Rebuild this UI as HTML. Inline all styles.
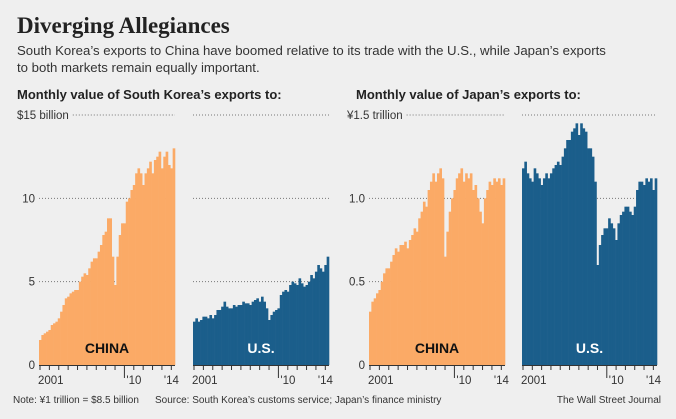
<!DOCTYPE html>
<html><head><meta charset="utf-8"><style>
body{margin:0;background:#efefef;}
svg{display:block;font-family:"Liberation Sans",sans-serif;}
</style></head><body>
<svg id="c" width="676" height="419" viewBox="0 0 676 419">
<rect width="676" height="419" fill="#efefef"/>
<text x="17" y="33" font-family="Liberation Serif,serif" font-weight="bold" font-size="23" fill="#222">Diverging Allegiances</text>
<text x="17" y="55" font-size="13.2" fill="#333">South Korea’s exports to China have boomed relative to its trade with the U.S., while Japan’s exports</text>
<text x="17" y="72" font-size="13.2" fill="#333">to both markets remain equally important.</text>
<text x="17" y="99" font-size="13" font-weight="bold" fill="#222">Monthly value of South Korea’s exports to:</text>
<text x="356" y="99" font-size="13" font-weight="bold" fill="#222">Monthly value of Japan’s exports to:</text>
<text x="13" y="403" font-size="10" fill="#333">Note: ¥1 trillion = $8.5 billion</text>
<text x="155" y="403" font-size="10" fill="#333">Source: South Korea’s customs service; Japan’s finance ministry</text>
<text x="661" y="403" font-size="10" fill="#333" text-anchor="end">The Wall Street Journal</text>
<g id="plots"></g>
</svg>
<script>
const krChina=[1.5,1.8,1.9,2.0,2.1,2.4,2.5,2.6,2.8,3.2,3.6,4.0,4.1,4.3,4.4,4.5,4.5,5.0,5.3,5.5,5.4,5.8,6.2,6.4,6.4,6.8,7.2,7.8,8.0,8.8,8.8,6.5,4.8,6.5,7.8,8.5,8.5,9.8,10.0,10.5,10.8,11.5,11.8,11.5,10.8,11.5,11.8,12.2,11.5,12.3,12.5,12.8,11.8,12.5,12.8,12.0,11.8,13.0];
const krUS=[2.6,2.8,2.6,2.7,2.9,2.9,2.8,3.0,2.8,3.0,3.3,3.3,3.5,3.8,3.5,3.4,3.4,3.6,3.5,3.6,3.6,3.8,3.7,3.7,3.6,3.8,3.9,4.0,3.8,4.1,3.8,3.4,2.7,3.0,3.2,3.3,3.4,4.2,4.4,4.5,4.4,4.8,5.0,4.9,4.8,5.2,4.9,4.7,4.8,5.0,5.4,5.2,5.6,6.0,5.8,5.6,6.0,6.5];
const jpChina=[0.32,0.38,0.40,0.43,0.45,0.50,0.55,0.58,0.58,0.62,0.66,0.70,0.68,0.72,0.72,0.74,0.70,0.75,0.78,0.82,0.80,0.88,0.92,0.98,0.95,1.05,1.10,1.15,1.10,1.15,1.18,1.12,0.65,0.80,0.92,1.00,1.05,1.12,1.15,1.18,1.10,1.15,1.12,1.15,1.05,1.08,1.00,0.92,0.85,1.00,1.05,1.10,1.08,1.12,1.10,1.12,1.08,1.12];
const jpUS=[1.18,1.22,1.15,1.12,1.10,1.18,1.15,1.12,1.08,1.12,1.15,1.12,1.15,1.18,1.20,1.22,1.20,1.25,1.30,1.35,1.35,1.40,1.42,1.45,1.38,1.45,1.42,1.40,1.30,1.30,1.25,1.10,0.60,0.72,0.78,0.82,0.82,0.88,0.85,0.82,0.75,0.85,0.90,0.92,0.95,0.95,0.92,0.90,0.95,1.05,1.10,1.10,1.08,1.12,1.10,1.12,1.05,1.12];
const krTicks=[0,5,10,15];
const krTickLabels=["0","5","10","$15 billion"];
const jpTicks=[0,0.5,1.0,1.5];
const jpTickLabels=["0","0.5","1.0","¥1.5 trillion"];
const startYear=2001;
const yearLabels=["2001","'10","'14"];
const yearLabelYears=[2001,2010,2014];

const NS="http://www.w3.org/2000/svg";
const g=document.getElementById('plots');
function mk(t,a,p){const e=document.createElementNS(NS,t);for(const k in a)e.setAttribute(k,a[k]);(p||g).appendChild(e);return e;}
const Y0=365,Y1=115;
function panel(x0,w,data,max,ticks,labels,color,name,label,showLabels){
  const grp=mk('g',{});
  
  
  const n=data.length, yrs=n/4;
  const xs=y=>x0+(y-startYear)/yrs*w;
  const ys=v=>Y0-(v/max)*(Y0-Y1);
  ticks.forEach((t,i)=>{
    if(t===0)return;
    const l=mk('line',{x1:x0,x2:x0+w,y1:ys(t),y2:ys(t),stroke:'#777','stroke-width':1,'stroke-dasharray':'1 2'},grp);
    
    
  });
  if(showLabels){
    ticks.forEach((t,i)=>{
      const last=i===ticks.length-1;
      const tx=mk('text',{x:last?x0-22:x0-4,y:ys(t)+4,'font-size':11.5,fill:'#333','text-anchor':last?'start':'end'},grp);
      tx.textContent=labels[i];
      
      
      if(last){const bb=tx.getComputedTextLength();const l=grp.querySelectorAll('line');l[l.length-1].setAttribute('x1',x0-22+bb+4);}
    });
  }
  const bw=w/n;
  data.forEach((v,i)=>{
    const r=mk('rect',{x:xs(startYear+i/4),y:ys(v),width:bw+0.3,height:Y0-ys(v),fill:color},grp);
    
    
  });
  const ax=mk('line',{x1:x0,x2:x0+w,y1:Y0+0.5,y2:Y0+0.5,stroke:'#333','stroke-width':1},grp);
  
  
  for(let y=startYear;y<startYear+yrs;y++){
    const xx=xs(y)+1;
    const tk=mk('line',{x1:xx,x2:xx,y1:Y0,y2:y===2010?Y0+13:Y0+5,stroke:'#333','stroke-width':1},grp);
    
    
  }
  yearLabelYears.forEach((y,i)=>{
    const tx=mk('text',{x:xs(y)+(i===0?-1:3),y:Y0+19,'font-size':11.5,fill:'#333'},grp);
    tx.textContent=yearLabels[i];
    
    
  });
  const lb=mk('text',{x:x0+w/2,y:353,'font-size':14,'font-weight':'bold',fill:label==='CHINA'?'#111':'#fff','text-anchor':'middle'},grp);
  lb.textContent=label;
  
  
}
panel(39,136,krChina,15,krTicks,krTickLabels,'#fbaa66','kr-china','CHINA',true);
panel(193,136,krUS,15,krTicks,krTickLabels,'#1b5e8b','kr-us','U.S.',false);
panel(369,136,jpChina,1.5,jpTicks,jpTickLabels,'#fbaa66','jp-china','CHINA',true);
panel(522,135,jpUS,1.5,jpTicks,jpTickLabels,'#1b5e8b','jp-us','U.S.',false);
</script>
</body></html>
